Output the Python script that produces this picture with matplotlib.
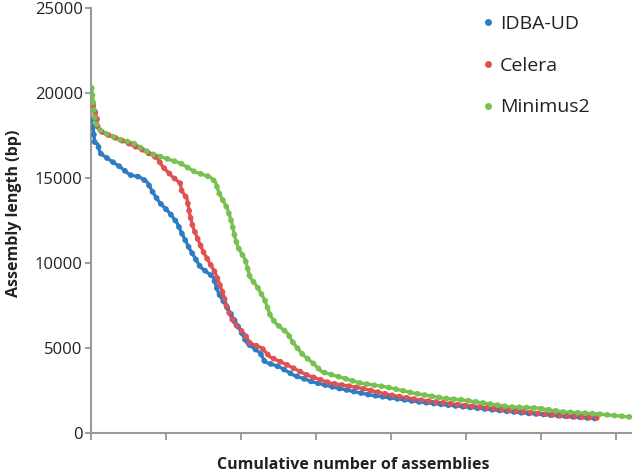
import matplotlib
matplotlib.use("Agg")
import matplotlib.pyplot as plt
from matplotlib.lines import Line2D

# -----------------------------
# --- Data
# -----------------------------
idba_n = [0, 3, 5, 9, 12, 25, 39, 52, 65, 75, 83, 92, 105, 115, 121, 132, 146,
          163, 170, 186, 199, 208, 226, 232, 252, 270, 296, 328, 372, 439, 493,
          577, 673]
idba_len = [18400, 17880, 17060, 17000, 16470, 16060, 15650, 15180, 15060, 14760,
            14120, 13530, 12940, 12350, 11760, 10800, 9760, 9180, 8240, 7060,
            6060, 5290, 4700, 4180, 3880, 3410, 3000, 2650, 2240, 1820, 1560,
            1180, 850]

celera_n = [3, 8, 9, 16, 39, 69, 88, 96, 109, 119, 121, 128, 132, 136, 143, 150,
            156, 166, 172, 176, 182, 190, 206, 212, 228, 239, 262, 288, 319, 359,
            399, 439, 493, 577, 630, 676]
celera_len = [19300, 18500, 17950, 17650, 17250, 16650, 16180, 15650, 15060,
              14700, 14250, 13800, 12820, 12120, 11350, 10650, 10180, 9410, 8710,
              8240, 7300, 6530, 5760, 5290, 5000, 4470, 4000, 3410, 2940, 2650,
              2240, 1940, 1650, 1240, 1000, 880]

minimus_n = [1, 3, 5, 9, 15, 39, 56, 79, 119, 139, 159, 166, 171, 182, 188, 192,
             196, 206, 212, 222, 232, 239, 246, 262, 270, 283, 296, 308, 336, 359,
             395, 430, 470, 497, 559, 595, 630, 676, 720]
minimus_len = [20300, 19400, 18500, 17950, 17700, 17250, 17060, 16450, 15880,
               15350, 15060, 14760, 14100, 13200, 12350, 11530, 10940, 10180, 9180,
               8590, 7820, 6940, 6470, 5880, 5290, 4590, 4120, 3600, 3240, 2940,
               2700, 2350, 2050, 1940, 1530, 1470, 1240, 1120, 940]

labels = ["IDBA-UD", "Celera", "Minimus2"]
colors = ["#2E7DC4", "#E05252", "#76C14F"]

# -----------------------------
# --- Plot
# -----------------------------
plt.rcParams['font.family'] = ['Open Sans', 'DejaVu Sans']

fig = plt.figure(figsize=(6.32, 4.72), dpi=100)
ax = fig.add_axes([91 / 632, 39 / 472, 1 - 91 / 632, (433 - 8) / 472])

series = [(idba_n, idba_len), (celera_n, celera_len), (minimus_n, minimus_len)]
for (n, v), c in zip(series, colors):
    # thin core + beaded dots on top, to look like a dense dot series
    ax.plot(n, v, '-', color=c, lw=2.4, solid_capstyle='round', zorder=2)
    ax.plot(n, v, color=c, lw=4.2, ls=(0, (0.01, 1.25)), dash_capstyle='round', zorder=3)

ax.set_xlim(0, 722)
ax.set_ylim(0, 25000)
ax.set_xticks(range(0, 701, 100))
ax.set_xticklabels([])
ax.set_yticks(range(0, 25001, 5000))
ax.tick_params(axis='y', labelsize=12, colors='#8c8c8c', labelcolor='#222222',
               length=4, width=1.2, pad=2)
ax.tick_params(axis='x', colors='#8c8c8c', length=5, width=1.2, direction='out')

for s in ['top', 'right']:
    ax.spines[s].set_visible(False)
for s in ['left', 'bottom']:
    ax.spines[s].set_color('#999999')
    ax.spines[s].set_linewidth(1.5)

ax.set_ylabel("Assembly length (bp)", fontsize=11.5, fontweight='bold', color='#222222')
ax.yaxis.set_label_coords((22 - 91) / 541, (433 - 213) / 425)
ax.set_xlabel("Cumulative number of assemblies", fontsize=11.5, fontweight='bold',
              color='#222222', va='center')
ax.xaxis.set_label_coords((353 - 91) / 541, -(465 - 433) / 425)

handles = [Line2D([], [], marker='o', ls='none', color=c, ms=5, mec='none') for c in colors]
ax.legend(handles, labels, loc='upper left', bbox_to_anchor=(0.68, 1.024), frameon=False,
          fontsize=14, handletextpad=0.0, labelspacing=1.21, handlelength=1.2,
          labelcolor='#222222')

fig.savefig("out.png", dpi=100)
